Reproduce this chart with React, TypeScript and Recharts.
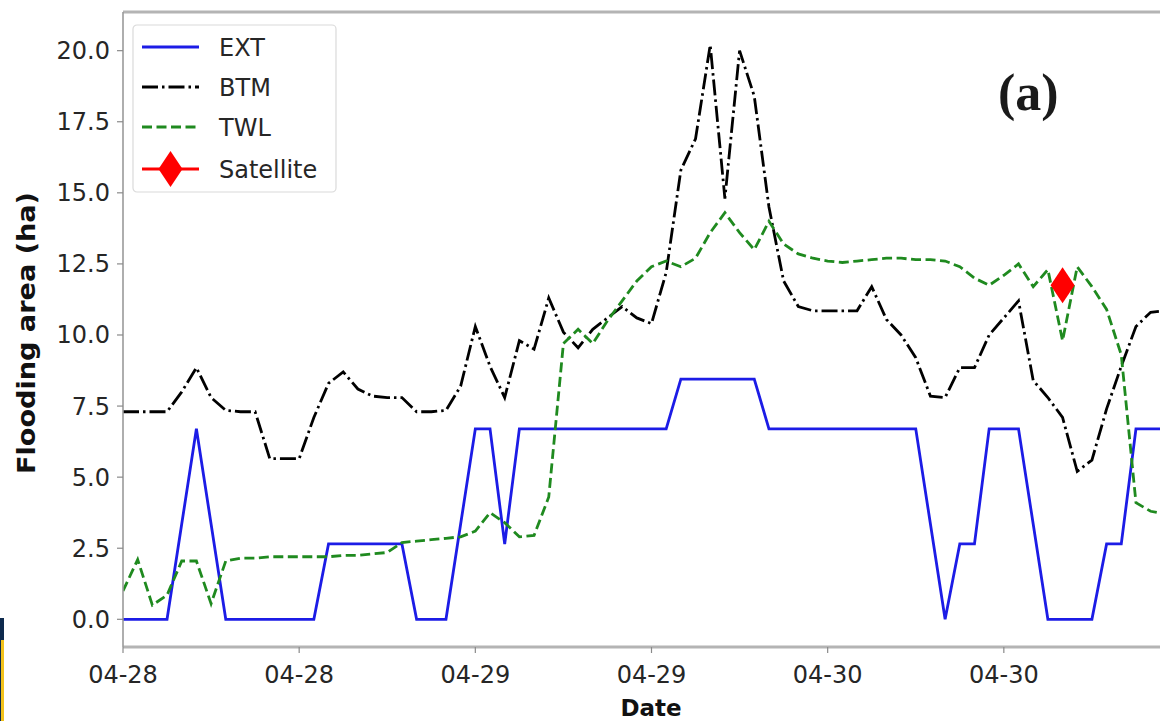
import React from 'react';
import { LineChart, Line, XAxis, YAxis, ReferenceLine, Legend, Customized } from 'recharts';

// hourly steps starting 04-28 00:00
const hours = Array.from({ length: 73 }, (_, i) => i);

const xTickHours = [0, 12, 24, 36, 48, 60];
const xTickLabels = ['04-28', '04-28', '04-29', '04-29', '04-30', '04-30'];
const yTicks = [0, 2.5, 5, 7.5, 10, 12.5, 15, 17.5, 20];

const ext = [
  0, 0, 0, 0, 3.35, 6.7, 3.35, 0, 0, 0, 0, 0, 0, 0,
  2.65, 2.65, 2.65, 2.65, 2.65, 2.65, 0, 0, 0, 3.35, 6.7, 6.7, 2.65,
  6.7, 6.7, 6.7, 6.7, 6.7, 6.7, 6.7, 6.7, 6.7, 6.7, 6.7,
  8.45, 8.45, 8.45, 8.45, 8.45, 8.45,
  6.7, 6.7, 6.7, 6.7, 6.7, 6.7, 6.7, 6.7, 6.7, 6.7, 6.7,
  3.35, 0, 2.65, 2.65, 6.7, 6.7, 6.7, 3.35, 0, 0, 0, 0, 2.65, 2.65,
  6.7, 6.7, 6.7, 6.7,
];

const btm = [
  7.3, 7.3, 7.3, 7.3, 8.0, 8.85, 7.8, 7.35, 7.3, 7.3, 5.65, 5.65, 5.65, 7.1,
  8.3, 8.7, 8.1, 7.85, 7.8, 7.8, 7.3, 7.3, 7.35, 8.2, 10.3, 8.9, 7.8,
  9.8, 9.5, 11.3, 10.1, 9.55, 10.2, 10.6, 11.0, 10.6, 10.4, 12.2,
  15.8, 16.9, 20.2, 14.8, 20.0, 18.4,
  14.5, 11.9, 11.0, 10.85, 10.85, 10.85, 10.85, 11.7, 10.55, 10.0, 9.2,
  7.85, 7.8, 8.85, 8.85, 10.0, 10.6, 11.2, 8.4, 7.8, 7.1, 5.2, 5.6, 7.4, 8.9,
  10.3, 10.8, 10.85, 10.85,
];

const twl = [
  1.0, 2.1, 0.5, 0.85, 2.05, 2.05, 0.55, 2.05, 2.15, 2.15, 2.2, 2.2, 2.2, 2.2,
  2.2, 2.25, 2.25, 2.3, 2.35, 2.7, 2.75, 2.8, 2.85, 2.9, 3.1, 3.75, 3.4,
  2.9, 2.95, 4.3, 9.7, 10.2, 9.7, 10.5, 11.2, 11.9, 12.4, 12.6,
  12.4, 12.7, 13.6, 14.3, 13.6, 13.0,
  14.0, 13.2, 12.85, 12.7, 12.6, 12.55, 12.6, 12.65, 12.7, 12.7, 12.65,
  12.65, 12.6, 12.4, 12.0, 11.75, 12.1, 12.5, 11.7, 12.3, 9.8, 12.4, 11.7, 10.9, 9.3,
  4.1, 3.8, 3.7, 3.7,
];

const satHour = 64;
const satValue = 11.75;

const data = hours.map((h, i) => ({
  h,
  ext: ext[i],
  btm: btm[i],
  twl: twl[i],
  sat: h === satHour ? satValue : null,
}));

const Y_MIN = -0.974;
const Y_MAX = 21.36;

const FONT = 'DejaVu Sans';
const TXT = '#262626';

const legendItems = [
  { name: 'EXT', color: '#1c1ce6', dash: undefined as string | undefined, marker: false },
  { name: 'BTM', color: '#000000', dash: '16 4 2.5 4', marker: false },
  { name: 'TWL', color: '#1f8a1f', dash: '10 4.5', marker: false },
  { name: 'Satellite', color: '#ff0000', dash: undefined, marker: true },
];

const diamond = (cx: number, cy: number, w: number, h: number) =>
  `M${cx},${cy - h / 2} L${cx + w / 2},${cy} L${cx},${cy + h / 2} L${cx - w / 2},${cy} Z`;

const XTick = (props: any) => {
  const { x, payload } = props;
  const idx = xTickHours.indexOf(payload.value);
  return (
    <text x={x} y={683} textAnchor="middle" fontFamily={FONT} fontSize={24} fill={TXT}>
      {xTickLabels[idx]}
    </text>
  );
};

const YTick = (props: any) => {
  const { x, y, payload } = props;
  return (
    <text x={x - 5} y={y} dy={8.5} textAnchor="end" fontFamily={FONT} fontSize={24} fill={TXT}>
      {Number(payload.value).toFixed(1)}
    </text>
  );
};

const renderLegend = () => (
  <svg width={206} height={170} style={{ display: 'block' }}>
    <rect x={1} y={1} width={203} height={167} rx={4} fill="#ffffff" fillOpacity={0.85} stroke="#dadada" strokeWidth={1.2} />
    {legendItems.map((it, i) => {
      const cy = [23, 63, 103, 145][i];
      return (
        <g key={it.name}>
          <line x1={10} x2={67} y1={cy} y2={cy} stroke={it.color} strokeWidth={2.8} strokeDasharray={it.dash} />
          {it.marker && <path d={diamond(38.5, cy, 24, 36)} fill={it.color} />}
          <text x={87} y={cy} dy={8.5} fontFamily={FONT} fontSize={24} fill={TXT}>{it.name}</text>
        </g>
      );
    })}
  </svg>
);

const SatDot = (props: any) => {
  const { cx, cy, payload } = props;
  if (payload == null || payload.sat == null || cx == null || cy == null) return <g key={props.key} />;
  return <path key={props.key} d={diamond(cx, cy, 24, 36)} fill="#ff0000" />;
};

const Titles = () => (
  <g>
    <text x={35} y={333} transform="rotate(-90 35 333)" textAnchor="middle" fontFamily={FONT} fontWeight="bold" fontSize={24} textLength={282} lengthAdjust="spacingAndGlyphs" fill="#111">
      Flooding area (ha)
    </text>
    <text x={651} y={716} textAnchor="middle" fontFamily={FONT} fontWeight="bold" fontSize={23} fill="#111">
      Date
    </text>
    <text x={998} y={110} fontFamily="Liberation Serif" fontWeight="bold" fontSize={52} fill="#1a1a1a">
      (a)
    </text>
  </g>
);

export default function App() {
  return (
    <div style={{ position: 'fixed', left: 0, top: 0, width: 1160, height: 721, overflow: 'hidden', background: '#fff' }}>
      <LineChart width={1200} height={721} data={data} margin={{ top: 12, right: 20, bottom: 0, left: 0 }}>
        <XAxis
          type="number"
          dataKey="h"
          domain={[0, 72]}
          ticks={xTickHours}
          allowDataOverflow
          height={74}
          axisLine={{ stroke: '#b4b4b4', strokeWidth: 3 }}
          tickLine={{ stroke: '#8a8a8a', strokeWidth: 1.2 }}
          tickSize={6}
          tick={<XTick />}
        />
        <YAxis
          type="number"
          domain={[Y_MIN, Y_MAX]}
          ticks={yTicks}
          allowDataOverflow
          width={123}
          axisLine={{ stroke: '#9a9a9a', strokeWidth: 1.6 }}
          tickLine={{ stroke: '#8a8a8a', strokeWidth: 1.2 }}
          tickSize={6}
          tick={<YTick />}
        />
        <ReferenceLine y={Y_MAX} stroke="#b4b4b4" strokeWidth={3} />
        <Line type="linear" dataKey="ext" stroke="#1c1ce6" strokeWidth={2.8} dot={false} isAnimationActive={false} />
        <Line type="linear" dataKey="btm" stroke="#000000" strokeWidth={2.8} strokeDasharray="16 4 2.5 4" dot={false} isAnimationActive={false} />
        <Line type="linear" dataKey="twl" stroke="#1f8a1f" strokeWidth={2.8} strokeDasharray="10 4.5" dot={false} isAnimationActive={false} />
        <Line type="linear" dataKey="sat" stroke="#ff0000" strokeWidth={0} dot={<SatDot />} activeDot={false} isAnimationActive={false} />
        <Legend
          layout="horizontal"
          verticalAlign="middle"
          align="center"
          wrapperStyle={{ position: 'absolute', left: 132, top: 24, width: 206, height: 170 }}
          content={renderLegend}
        />
        <Customized component={Titles} />
      </LineChart>
      <div style={{ position: 'absolute', left: 0, top: 618, width: 4, height: 22, background: '#0e2a4d' }} />
      <div style={{ position: 'absolute', left: 1, top: 640, width: 3, height: 81, background: '#f2c21b' }} />
      <div style={{ position: 'absolute', left: 0, top: 640, width: 1, height: 81, background: '#0e2a4d' }} />
    </div>
  );
}
